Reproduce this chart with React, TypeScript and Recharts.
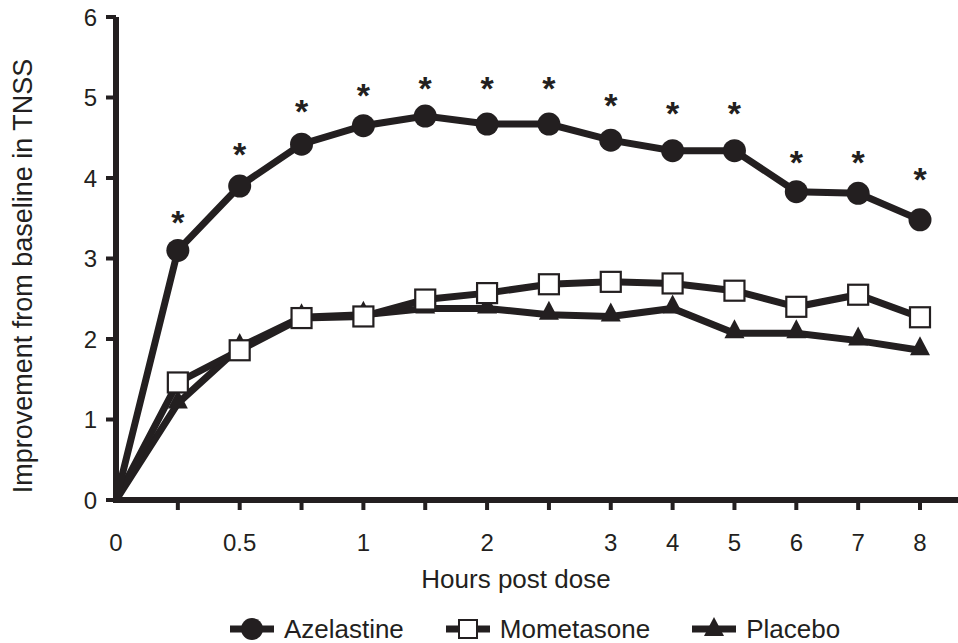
import { LineChart, Line, XAxis, YAxis, Legend } from "recharts";

// hours post dose (categorical, evenly spaced)
const hours = ["0", "0.25", "0.5", "0.75", "1", "1.5", "2", "2.5", "3", "4", "5", "6", "7", "8"];
const hourLabels = ["0", "", "0.5", "", "1", "", "2", "", "3", "4", "5", "6", "7", "8"];

const azelastine = [0, 3.1, 3.9, 4.42, 4.65, 4.77, 4.67, 4.67, 4.47, 4.34, 4.34, 3.83, 3.81, 3.48];
const mometasone = [0, 1.46, 1.86, 2.26, 2.28, 2.49, 2.57, 2.68, 2.71, 2.69, 2.6, 2.4, 2.55, 2.27];
const placebo = [0, 1.2, 1.9, 2.27, 2.3, 2.38, 2.38, 2.3, 2.28, 2.38, 2.07, 2.07, 1.98, 1.86];

// where the significance asterisks sit (null = none)
const asterisk = [null, 3.54, 4.38, 4.92, 5.12, 5.21, 5.21, 5.21, 5.0, 4.9, 4.9, 4.29, 4.29, 4.07];

const yTicks = [0, 1, 2, 3, 4, 5, 6];
const legendOrder = ["Azelastine", "Mometasone", "Placebo"];

const INK = "#231f20";
const FONT = "'Liberation Sans', Arial, Helvetica, sans-serif";

const data = hours.map((h, i) => ({
  hour: h,
  azelastine: azelastine[i],
  mometasone: mometasone[i],
  placebo: placebo[i],
  star: asterisk[i],
}));

const CircleDot = (props: any) => {
  const { cx, cy, index } = props;
  if (index === 0 || cx == null) return <g key={`c-${index}`} />;
  return <circle key={`c-${index}`} cx={cx} cy={cy} r={11.5} fill={INK} />;
};

const SquareDot = (props: any) => {
  const { cx, cy, index } = props;
  if (index === 0 || cx == null) return <g key={`s-${index}`} />;
  return (
    <rect
      key={`s-${index}`}
      x={cx - 10}
      y={cy - 10}
      width={20}
      height={20}
      fill="#fff"
      stroke={INK}
      strokeWidth={2.2}
    />
  );
};

const TriangleDot = (props: any) => {
  const { cx, cy, index } = props;
  if (index === 0 || cx == null) return <g key={`t-${index}`} />;
  return (
    <path
      key={`t-${index}`}
      d={`M${cx},${cy - 14} L${cx + 10},${cy + 5} L${cx - 10},${cy + 5} Z`}
      fill={INK}
    />
  );
};

const StarDot = (props: any) => {
  const { cx, cy, index, value } = props;
  if (value == null || cx == null || cy == null) return <g key={`a-${index}`} />;
  return (
    <text
      key={`a-${index}`}
      x={cx}
      y={cy + 19}
      textAnchor="middle"
      fontFamily={FONT}
      fontWeight="bold"
      fontSize={34}
      fill={INK}
    >
      *
    </text>
  );
};

const HourTick = (props: any) => {
  const { x, y, index } = props;
  return (
    <g>
      {index > 0 && <line x1={x} y1={y - 10} x2={x} y2={y} stroke={INK} strokeWidth={4} />}
      <text x={x} y={y + 41} textAnchor="middle" fontFamily={FONT} fontSize={24} fill={INK}>
        {hourLabels[index]}
      </text>
    </g>
  );
};

const XTitle = () => (
  <text x={516} y={588} textAnchor="middle" fontFamily={FONT} fontSize={26} fill={INK}>
    Hours post dose
  </text>
);

const YTitle = () => (
  <text
    transform="translate(32,276) rotate(-90)"
    textAnchor="middle"
    fontFamily={FONT}
    fontSize={27}
    fill={INK}
  >
    Improvement from baseline in TNSS
  </text>
);

const LegendIcon = ({ name }: { name: string }) => (
  <svg width={44} height={26} style={{ display: "block" }}>
    <line x1={0} y1={13} x2={44} y2={13} stroke={INK} strokeWidth={7} />
    {name === "Azelastine" && <circle cx={22} cy={13} r={11} fill={INK} />}
    {name === "Mometasone" && (
      <rect x={13} y={4} width={18} height={18} fill="#fff" stroke={INK} strokeWidth={2} />
    )}
    {name === "Placebo" && <path d="M22,1 L32,20 L12,20 Z" fill={INK} />}
  </svg>
);

const LegendBox = () => (
  <div
    style={{
      display: "flex",
      justifyContent: "center",
      alignItems: "center",
      height: 26,
      gap: 42,
      paddingLeft: 112,
      fontFamily: FONT,
      fontSize: 26,
      lineHeight: 1,
      color: INK,
    }}
  >
    {legendOrder.map((name) => (
      <div key={name} style={{ display: "flex", alignItems: "center", gap: 10 }}>
        <LegendIcon name={name} />
        <span>{name}</span>
      </div>
    ))}
  </div>
);

export default function App() {
  return (
    <div style={{ position: "absolute", left: 0, top: 0, background: "#fff" }}>
      <LineChart
        width={958}
        height={643}
        data={data}
        margin={{ top: 17, right: 0, bottom: 1, left: 0 }}
      >
        <XAxis
          dataKey="hour"
          interval={0}
          height={116}
          padding={{ left: 0, right: 38 }}
          axisLine={{ stroke: INK, strokeWidth: 6, strokeLinecap: "square" }}
          tickLine={false}
          tickSize={10}
          tickMargin={0}
          tick={<HourTick />}
          label={<XTitle />}
        />
        <YAxis
          domain={[0, 6]}
          ticks={yTicks}
          width={116}
          axisLine={{ stroke: INK, strokeWidth: 6 }}
          tickLine={{ stroke: INK, strokeWidth: 4 }}
          tickSize={10}
          tickMargin={9}
          tick={{ fill: INK, fontSize: 24, fontFamily: FONT }}
          label={<YTitle />}
        />
        <Legend verticalAlign="bottom" content={<LegendBox />} />
        <Line
          dataKey="placebo"
          name="Placebo"
          stroke={INK}
          strokeWidth={7}
          dot={<TriangleDot />}
          activeDot={false}
          isAnimationActive={false}
        />
        <Line
          dataKey="mometasone"
          name="Mometasone"
          stroke={INK}
          strokeWidth={7}
          dot={<SquareDot />}
          activeDot={false}
          isAnimationActive={false}
        />
        <Line
          dataKey="azelastine"
          name="Azelastine"
          stroke={INK}
          strokeWidth={7}
          dot={<CircleDot />}
          activeDot={false}
          isAnimationActive={false}
        />
        <Line
          dataKey="star"
          name="significance"
          stroke="none"
          legendType="none"
          dot={<StarDot />}
          activeDot={false}
          isAnimationActive={false}
        />
      </LineChart>
    </div>
  );
}
